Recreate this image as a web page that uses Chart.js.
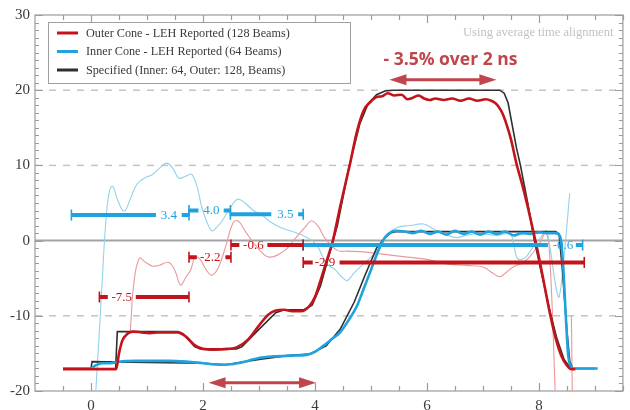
<!DOCTYPE html>
<html><head><meta charset="utf-8">
<script src="https://cdn.jsdelivr.net/npm/chart.js@4/dist/chart.umd.min.js"></script>
<style>html,body{margin:0;padding:0;background:#fff}#wrap{width:630px;height:410px}</style>
</head><body><div id="wrap"><canvas id="c" width="630" height="410"></canvas></div>
<script>
// ---------- data (time in ns, value in chart units) ----------
const xTickLabels = [0, 2, 4, 6, 8];
const yTickLabels = [-20, -10, 0, 10, 20, 30];
const yDashedGrid = [-10, 10, 20];

const outerMeasured = [[-0.5,-17.1],[0.45,-17.1],[0.5,-15],[0.56,-13.3],[0.65,-12.4],[0.75,-12.1],[0.9,-12.2],[1.05,-12.3],[1.2,-12.2],[1.35,-12.2],[1.55,-12.2],[1.7,-12.8],[1.85,-13.9],[2.0,-14.4],[2.2,-14.5],[2.45,-14.4],[2.6,-14.2],[2.8,-13.2],[3.0,-11.3],[3.16,-9.9],[3.3,-9.3],[3.45,-9.2],[3.6,-9.4],[3.75,-9.4],[3.9,-8.7],[4.0,-7.5],[4.1,-5.3],[4.2,-2.9],[4.32,0],[4.45,4.5],[4.62,10],[4.75,14.5],[4.87,17.3],[5.0,18.5],[5.1,19.1],[5.2,19.2],[5.3,19.6],[5.42,19.3],[5.55,19.4],[5.65,18.8],[5.75,19.0],[5.85,19.3],[5.95,18.9],[6.05,18.7],[6.15,18.9],[6.3,18.7],[6.45,18.9],[6.6,18.6],[6.75,18.9],[6.9,18.6],[7.05,18.8],[7.15,18.6],[7.22,18.3],[7.28,17.8],[7.35,16.9],[7.42,15.5],[7.5,13.5],[7.6,10.2],[7.7,7.5],[7.8,4.5],[7.9,1.2],[8.0,-2.2],[8.1,-6],[8.2,-9.8],[8.3,-13],[8.4,-15.3],[8.5,-16.6],[8.58,-17.1],[8.65,-17.1]];

const innerMeasured = [[-0.5,-17],[0.0,-17],[0.08,-16.6],[0.2,-16.3],[0.35,-16.3],[0.5,-16.1],[0.8,-16],[1.1,-16.0],[1.4,-16.0],[1.7,-16.1],[2.0,-16.3],[2.3,-16.5],[2.55,-16.4],[2.8,-16.0],[3.0,-15.6],[3.25,-15.4],[3.6,-15.3],[3.85,-15.2],[4.0,-14.8],[4.15,-14.0],[4.3,-13.1],[4.45,-12.2],[4.6,-10.6],[4.75,-8.7],[4.85,-6.8],[5.0,-3.9],[5.14,-1.2],[5.25,0.4],[5.33,1.0],[5.45,1.3],[5.6,1.2],[5.75,1.0],[5.9,1.3],[6.05,0.9],[6.2,1.2],[6.35,0.8],[6.5,1.3],[6.65,0.9],[6.8,1.2],[6.95,0.8],[7.1,1.2],[7.25,0.9],[7.4,1.2],[7.55,0.7],[7.7,1.0],[7.85,0.9],[8.0,1.1],[8.15,1.0],[8.3,1.0],[8.38,0.5],[8.43,-3],[8.48,-10],[8.52,-15],[8.56,-16.6],[8.62,-17],[9.05,-17]];

const outerSpecified = [[-0.5,-17],[0.44,-17],[0.47,-12.1],[1.55,-12.1],[1.65,-12.4],[1.85,-14.1],[1.95,-14.4],[2.6,-14.4],[2.7,-14.1],[3.0,-11.8],[3.3,-9.6],[3.45,-9.2],[3.8,-9.2],[3.95,-8.6],[4.1,-6],[4.25,-2],[4.4,2],[4.6,9.5],[4.8,15.5],[4.95,18.2],[5.1,19.4],[5.25,19.9],[5.4,20],[7.3,20],[7.38,19.6],[7.45,18.3],[7.52,15.5],[7.6,12.3],[7.67,10],[7.8,5],[7.92,0],[8.05,-4.5],[8.2,-9.5],[8.32,-13],[8.45,-15.8],[8.55,-16.8],[8.62,-17.1]];

const innerSpecified = [[-0.5,-17],[0.0,-17],[0.02,-16.1],[2.0,-16.3],[2.4,-16.5],[3.0,-15.8],[3.5,-15.3],[3.9,-15.1],[4.2,-14],[4.45,-11.8],[4.7,-8.2],[4.9,-4.5],[5.1,-1],[5.25,0.4],[5.35,1],[5.45,1.2],[8.3,1.2],[8.36,0.9],[8.42,-4],[8.5,-12],[8.55,-16],[8.6,-17],[9.0,-17]];

const innerPercent = [[0.07,-22],[0.15,-12],[0.21,-4],[0.27,3],[0.33,6.6],[0.39,7.2],[0.47,5.5],[0.59,3.9],[0.7,5.5],[0.82,7.5],[0.95,8.3],[1.1,8.8],[1.25,9.8],[1.36,10.3],[1.47,9.5],[1.57,8.3],[1.7,8.6],[1.8,8.8],[1.9,7.0],[1.98,4.4],[2.08,2.3],[2.16,1.3],[2.25,1.8],[2.34,2.6],[2.5,4.5],[2.62,5.5],[2.75,5.0],[2.9,4.0],[3.05,3.4],[3.22,2.4],[3.4,1.7],[3.6,1.2],[3.75,0.8],[3.93,0.1],[4.05,-0.8],[4.2,-3.0],[4.35,-3.8],[4.5,-5.0],[4.58,-5.3],[4.7,-4.3],[4.87,-3.1],[5.0,-2.2],[5.15,-1.0],[5.3,0.8],[5.47,1.75],[5.7,2.0],[5.94,2.2],[6.1,1.6],[6.3,0.9],[6.53,0.4],[6.75,0.8],[7.0,0.9],[7.25,0.7],[7.48,0.9],[7.55,-0.5],[7.62,-2.4],[7.75,-2.3],[7.9,-0.8],[8.05,0.6],[8.13,1.3],[8.2,-1],[8.3,-6],[8.36,-7.5],[8.45,-2],[8.55,6.3]];

const outerPercent = [[0.7,-12.3],[0.72,-10],[0.76,-6],[0.86,-2.4],[0.98,-2.9],[1.1,-3.4],[1.21,-3.3],[1.39,-2.9],[1.5,-4],[1.6,-5.9],[1.7,-4.8],[1.78,-3.9],[1.86,-2.2],[1.95,-2.5],[2.05,-3.8],[2.16,-4.6],[2.28,-3.5],[2.4,-0.9],[2.54,2.4],[2.63,2.6],[2.75,1.3],[2.99,-1.1],[3.19,-2.2],[3.46,-1.3],[3.65,0.3],[3.82,1.75],[3.93,2.6],[4.05,2.0],[4.17,0.4],[4.4,-1.3],[4.6,-1.4],[4.87,-1.5],[5.2,-1.8],[5.65,-2.2],[6.0,-2.5],[6.36,-3.1],[6.7,-3.3],[7.0,-3.5],[7.15,-4.2],[7.3,-4.8],[7.42,-4.2],[7.54,-3.5],[7.7,-3.0],[7.83,-2.2],[8.0,-0.5],[8.13,1.0],[8.2,-3],[8.3,-22]];
const outerPercentTail = [[8.58,-10],[8.6,-22]];

// averaged-interval markers
const segValues   = [3.4, 4.0, 3.5, -7.5, -2.2, -0.6, -2.9, -0.6];
const segLabels   = ['3.4','4.0','3.5','-7.5','-2.2','-0.6','-2.9','-0.6'];
const segGroups   = ['inner','inner','inner','outer','outer','outer','outer','inner'];
const segStart    = [-0.35, 1.75, 2.49, 0.15, 1.75, 2.50, 3.79, 3.79];
const segGapFrom  = [1.16, 1.92, 3.22, 0.30, 1.89, 2.65, 3.96, 8.16];
const segGapTo    = [1.62, 2.37, 3.70, 0.80, 2.40, 3.15, 4.44, 8.66];
const segEnd      = [1.75, 2.49, 3.79, 1.75, 2.50, 3.79, 8.81, 8.78];
const segLabelAt  = [1.39, 2.15, 3.47, 0.55, 2.13, 2.90, 4.18, 8.43];

// span arrows and notes (data units)
const arrowFrom = [5.33, 2.10];
const arrowTo   = [7.24, 4.02];
const arrowY    = [21.4, -18.9];
const headline  = {text: '- 3.5% over 2 ns', x: 6.42, y: 24.0};
const footnote  = {text: 'Using average time alignment', x: 9.33, y: 27.7};

// ---------- styling ----------
const RED = '#c3141c', BLUE = '#1fa3df', BLACK = '#2f2f2f';
const LIGHTBLUE = '#93d2ec', LIGHTRED = '#eb9898', ARROW = '#c0454c';
const SERIF = "'Liberation Serif', 'DejaVu Serif', serif";

const toPts = a => a.map(([x, y]) => ({x, y}));
const datasets = [
  {label: 'Outer Cone - LEH Reported (128 Beams)', data: toPts(outerMeasured), borderColor: RED, borderWidth: 2.6, cubicInterpolationMode: 'monotone', order: 2},
  {label: 'Inner Cone - LEH Reported (64 Beams)', data: toPts(innerMeasured), borderColor: BLUE, borderWidth: 2.6, cubicInterpolationMode: 'monotone', order: 3},
  {label: 'Specified (Inner: 64, Outer: 128, Beams)', data: toPts(outerSpecified), borderColor: BLACK, borderWidth: 1.6, tension: 0, order: 4},
  {label: '', data: toPts(innerSpecified), borderColor: BLACK, borderWidth: 1.6, tension: 0, order: 4},
  {label: '', data: toPts(innerPercent), borderColor: LIGHTBLUE, borderWidth: 1.1, tension: 0.4, order: 5},
  {label: '', data: toPts(outerPercent), borderColor: LIGHTRED, borderWidth: 1.1, tension: 0.4, order: 5},
  {label: '', data: toPts(outerPercentTail), borderColor: LIGHTRED, borderWidth: 1.1, tension: 0, order: 5},
];
segValues.forEach((v, i) => {
  const col = segGroups[i] === 'inner' ? BLUE : RED;
  datasets.push({
    label: '', seg: i,
    data: [{x: segStart[i], y: v}, {x: segGapFrom[i], y: v}, {x: (segGapFrom[i] + segGapTo[i]) / 2, y: null}, {x: segGapTo[i], y: v}, {x: segEnd[i], y: v}],
    borderColor: col, borderWidth: 4, spanGaps: false, tension: 0, order: 1,
    pointRadius: [5.5, 0, 0, 0, 5.5], pointStyle: 'line', pointRotation: 90,
    pointBorderColor: col, pointBorderWidth: 1.6
  });
});

const decor = {
  id: 'decor',
  beforeDatasetsDraw(chart) {
    const {ctx, chartArea: a, scales: {x, y}} = chart;
    ctx.save();
    ctx.setLineDash([7, 7]); ctx.strokeStyle = '#c4c4c4'; ctx.lineWidth = 1.5;
    yDashedGrid.forEach(v => { const py = y.getPixelForValue(v); ctx.beginPath(); ctx.moveTo(a.left, py); ctx.lineTo(a.right, py); ctx.stroke(); });
    ctx.setLineDash([]);
    const z = y.getPixelForValue(0);
    ctx.strokeStyle = '#a4a4a4'; ctx.lineWidth = 2;
    ctx.beginPath(); ctx.moveTo(a.left, z); ctx.lineTo(a.right, z); ctx.stroke();
    ctx.strokeStyle = '#9c9c9c'; ctx.lineWidth = 1.2;
    ctx.strokeRect(a.left, a.top, a.right - a.left, a.bottom - a.top);
    ctx.beginPath();
    for (let v = y.min; v <= y.max; v += 1) {
      const py = Math.round(y.getPixelForValue(v)) + 0.5;
      const L = (v % 10 === 0) ? 8 : 4;
      ctx.moveTo(a.left, py); ctx.lineTo(a.left + L, py);
      ctx.moveTo(a.right, py); ctx.lineTo(a.right - L, py);
    }
    for (let v = -0.5; v <= x.max; v += 0.5) {
      const px = Math.round(x.getPixelForValue(v)) + 0.5;
      const L = (v % 2 === 0) ? 8 : 5;
      ctx.moveTo(px, a.top); ctx.lineTo(px, a.top + L);
      ctx.moveTo(px, a.bottom); ctx.lineTo(px, a.bottom - L);
    }
    ctx.stroke();
    ctx.restore();
  },
  afterDatasetsDraw(chart) {
    const {ctx, chartArea: a, scales: {x, y}} = chart;
    ctx.save();
    // interval labels
    ctx.font = '13px ' + SERIF; ctx.textAlign = 'center'; ctx.textBaseline = 'middle';
    segValues.forEach((v, i) => {
      ctx.fillStyle = segGroups[i] === 'inner' ? BLUE : RED;
      ctx.fillText(segLabels[i], x.getPixelForValue(segLabelAt[i]), y.getPixelForValue(v) + 0.5);
    });
    // arrows
    ctx.strokeStyle = ARROW; ctx.fillStyle = ARROW; ctx.lineWidth = 3;
    arrowFrom.forEach((f, i) => {
      const x1 = x.getPixelForValue(f), x2 = x.getPixelForValue(arrowTo[i]), py = y.getPixelForValue(arrowY[i]);
      const H = 17, W = 5.5;
      ctx.beginPath(); ctx.moveTo(x1 + H - 2, py); ctx.lineTo(x2 - H + 2, py); ctx.stroke();
      ctx.beginPath(); ctx.moveTo(x1, py); ctx.lineTo(x1 + H, py - W); ctx.lineTo(x1 + H, py + W); ctx.closePath(); ctx.fill();
      ctx.beginPath(); ctx.moveTo(x2, py); ctx.lineTo(x2 - H, py - W); ctx.lineTo(x2 - H, py + W); ctx.closePath(); ctx.fill();
    });
    // headline
    ctx.font = "bold 17.5px 'Open Sans', 'Liberation Sans', sans-serif";
    ctx.fillStyle = ARROW; ctx.textAlign = 'center';
    ctx.fillText(headline.text, x.getPixelForValue(headline.x), y.getPixelForValue(headline.y));
    // footnote
    ctx.font = '12.5px ' + SERIF; ctx.fillStyle = '#c2c2c2'; ctx.textAlign = 'right';
    ctx.fillText(footnote.text, x.getPixelForValue(footnote.x), y.getPixelForValue(footnote.y));
    // legend box
    const lx = a.left + 13, ly = a.top + 7, lw = 302, lh = 61;
    ctx.fillStyle = '#fff'; ctx.fillRect(lx, ly, lw, lh);
    ctx.strokeStyle = '#a0a0a0'; ctx.lineWidth = 1; ctx.strokeRect(lx + 0.5, ly + 0.5, lw, lh);
    ctx.font = '12.2px ' + SERIF; ctx.textAlign = 'left'; ctx.textBaseline = 'middle';
    chart.data.datasets.slice(0, 3).forEach((d, i) => {
      const ry = ly + 11 + i * 18.5;
      ctx.strokeStyle = d.borderColor; ctx.lineWidth = 3;
      ctx.beginPath(); ctx.moveTo(lx + 9, ry); ctx.lineTo(lx + 30, ry); ctx.stroke();
      ctx.fillStyle = '#3a3a3a';
      ctx.fillText(d.label, lx + 38, ry + 0.5);
    });
    ctx.restore();
  }
};

new Chart(document.getElementById('c'), {
  type: 'line',
  data: {datasets},
  options: {
    responsive: false, animation: false, parsing: true,
    layout: {padding: {top: 15, right: 2, left: 0, bottom: 0}},
    elements: {point: {radius: 0, hoverRadius: 0}, line: {fill: false}},
    plugins: {legend: {display: false}, tooltip: {enabled: false}},
    scales: {
      x: {
        type: 'linear', min: -1, max: 9.5,
        afterBuildTicks: s => { s.ticks = xTickLabels.map(v => ({value: v})); },
        afterFit: s => { s.height = 19; },
        grid: {display: false, drawTicks: false}, border: {display: false},
        ticks: {padding: 6, font: {family: SERIF, size: 15}, color: '#3a3a3a', maxRotation: 0, autoSkip: false}
      },
      y: {
        type: 'linear', min: -20, max: 30,
        afterBuildTicks: s => { s.ticks = yTickLabels.map(v => ({value: v})); },
        afterFit: s => { s.width = 35; },
        grid: {display: false, drawTicks: false}, border: {display: false},
        ticks: {padding: 5, font: {family: SERIF, size: 15}, color: '#3a3a3a', autoSkip: false}
      }
    }
  },
  plugins: [decor]
});
</script>
</body></html>
